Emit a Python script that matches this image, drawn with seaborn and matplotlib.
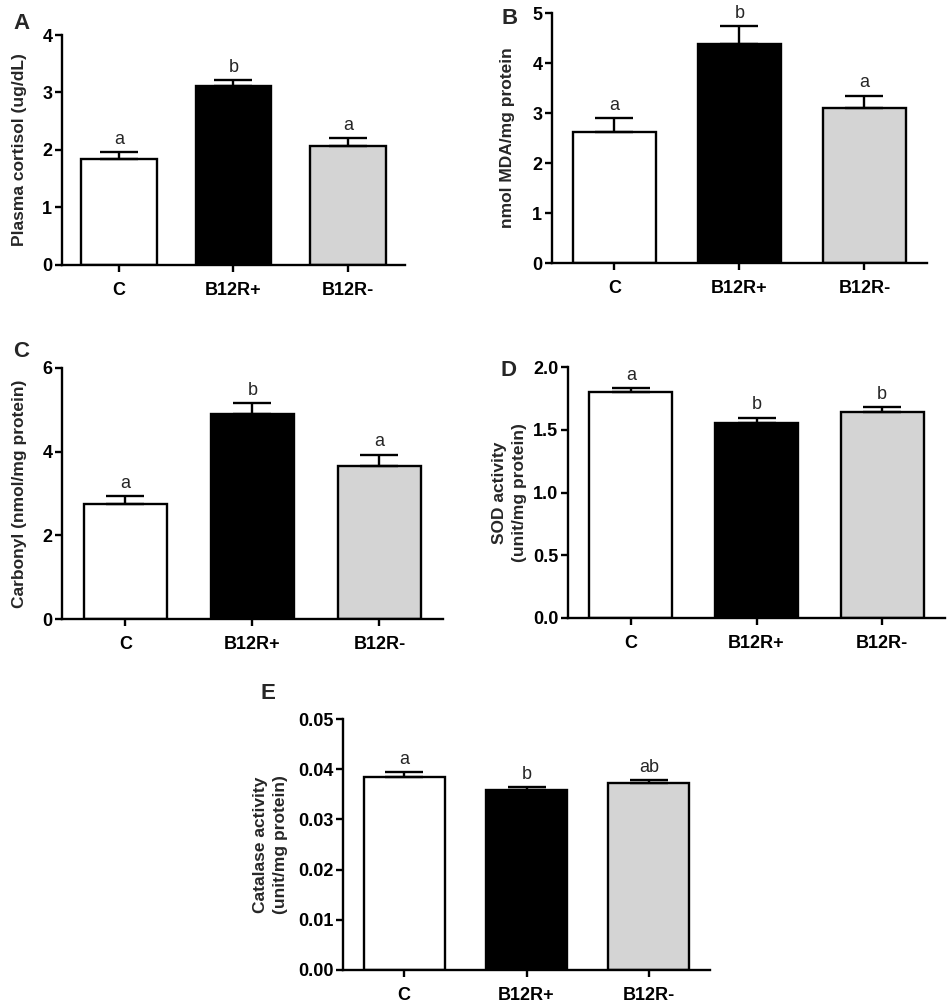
import matplotlib
matplotlib.use('Agg')
import matplotlib.pyplot as plt
import seaborn as sns
import numpy as np

groups = ['C', 'B12R+', 'B12R-']
bar_colors = ['#ffffff', '#000000', '#d4d4d4']

# panel values (mean, upper SEM)
cortisol = [1.84, 3.11, 2.07]
cortisol_err = [0.13, 0.11, 0.14]
cortisol_sig = ['a', 'b', 'a']

mda = [2.62, 4.38, 3.10]
mda_err = [0.28, 0.36, 0.25]
mda_sig = ['a', 'b', 'a']

carbonyl = [2.76, 4.91, 3.66]
carbonyl_err = [0.18, 0.25, 0.27]
carbonyl_sig = ['a', 'b', 'a']

sod = [1.80, 1.557, 1.641]
sod_err = [0.035, 0.04, 0.04]
sod_sig = ['a', 'b', 'b']

catalase = [0.0384, 0.0359, 0.0373]
catalase_err = [0.0010, 0.0005, 0.0005]
catalase_sig = ['a', 'b', 'ab']

sns.set_style('ticks')
plt.rcParams['font.family'] = ['Liberation Sans', 'DejaVu Sans']

W, H = 953, 1007
fig = plt.figure(figsize=(W / 100, H / 100), dpi=100)


def rect(l, t, r, b):
    return [l / W, 1 - b / H, (r - l) / W, (b - t) / H]


def panel(box, vals, errs, sig, ylabel, yticks, fmt, label_x, letter, letter_xy):
    ax = fig.add_axes(rect(*box))
    sns.barplot(x=groups, y=vals, hue=groups, palette=bar_colors, legend=False,
                edgecolor='black', linewidth=1.7, width=0.66, ax=ax)
    ax.errorbar(range(3), vals, yerr=[np.zeros(3), errs], fmt='none',
                ecolor='black', elinewidth=1.7, capsize=14, capthick=1.7, zorder=5)
    for i, (v, e, s) in enumerate(zip(vals, errs, sig)):
        ax.annotate(s, (i, v + e), xytext=(0, 3), textcoords='offset points',
                    ha='center', va='bottom', fontsize=13)
    ax.set_xlim(-0.5, 2.5)
    ax.set_ylim(yticks[0], yticks[-1])
    ax.set_yticks(yticks)
    ax.set_yticklabels([fmt.format(t) for t in yticks], fontweight='bold', fontsize=13)
    ax.set_xticks(range(3))
    ax.set_xticklabels(groups, fontweight='bold', fontsize=13)
    ax.set_ylabel(ylabel, fontweight='bold', fontsize=12.5, linespacing=1.45)
    ax.yaxis.set_label_coords(label_x, 0.5)
    ax.set_xlabel('')
    ax.tick_params(width=1.7, length=5, colors='black')
    ax.tick_params(axis='x', pad=7)
    ax.tick_params(axis='y', pad=2)
    for sp in ['left', 'bottom']:
        ax.spines[sp].set_linewidth(1.7)
        ax.spines[sp].set_color('black')
    sns.despine(ax=ax)
    fig.text(letter_xy[0] / W, 1 - letter_xy[1] / H, letter, fontsize=16,
             fontweight='bold', ha='left', va='top')
    return ax


panel((62, 35, 405, 265), cortisol, cortisol_err, cortisol_sig,
      'Plasma cortisol (ug/dL)', [0, 1, 2, 3, 4], '{:.0f}', -0.102, 'A', (13, 13))
panel((552, 13, 927, 263), mda, mda_err, mda_sig,
      'nmol MDA/mg protein', [0, 1, 2, 3, 4, 5], '{:.0f}', -0.099, 'B', (502, 8))
panel((62, 368, 443, 619), carbonyl, carbonyl_err, carbonyl_sig,
      'Carbonyl (nmol/mg protein)', [0, 2, 4, 6], '{:.0f}', -0.092, 'C', (13, 341))
panel((568, 367, 945, 618), sod, sod_err, sod_sig,
      'SOD activity\n(unit/mg protein)', [0.0, 0.5, 1.0, 1.5, 2.0], '{:.1f}', -0.109, 'D', (501, 360))
panel((343, 719, 710, 970), catalase, catalase_err, catalase_sig,
      'Catalase activity\n(unit/mg protein)', [0.0, 0.01, 0.02, 0.03, 0.04, 0.05], '{:.2f}', -0.150, 'E', (261, 683))

fig.savefig('out.png', dpi=100)
